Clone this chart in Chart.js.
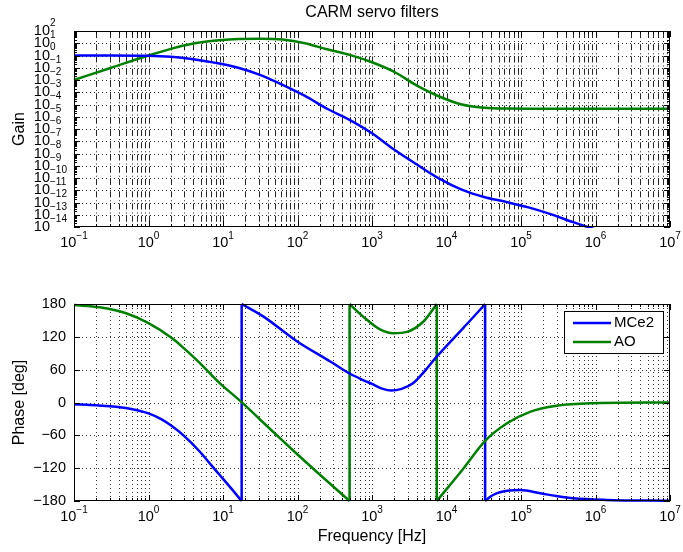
<!DOCTYPE html>
<html><head><meta charset="utf-8">
<script src="https://cdn.jsdelivr.net/npm/chart.js@4.4.1/dist/chart.umd.min.js"></script>
<style>
html,body{margin:0;padding:0;background:#fff;}
#wrap{position:relative;width:683px;height:552px;overflow:hidden;}
canvas{position:absolute;left:0;}
</style></head><body>
<div id="wrap">
<canvas id="gain" width="683" height="276" style="top:0"></canvas>
<canvas id="phase" width="683" height="276" style="top:276px"></canvas>
</div>
<script>
// ---- data ----
const seriesNames = ['MCe2', 'AO'];
const seriesColors = ['#0000ff', '#008000'];

const gainFreq = [0.1, 0.316, 1, 2, 4, 8, 16, 32, 63, 126, 250, 500, 1000, 2000, 4000, 8000, 16000, 32000, 63000, 126000, 250000, 500000, 1e6, 1e7];
const gainMCe2 = [1, 1, 0.955, 0.79, 0.5, 0.25, 0.1, 0.025, 4e-3, 5e-4, 4.5e-5, 5.6e-6, 4.5e-7, 2e-8, 1.26e-9, 8.9e-11, 1.12e-11, 2.8e-12, 1.12e-12, 4e-13, 1.12e-13, 2.5e-14, 6.3e-15, 1e-16];
const gainAO = [0.01, 0.1, 1, 3.5, 9.5, 16.6, 22.4, 22.9, 20, 10, 3.2, 1.12, 0.28, 0.045, 3.5e-3, 4.5e-4, 1e-4, 5.5e-5, 4.7e-5, 4.6e-5, 4.6e-5, 4.6e-5, 4.6e-5, 4.6e-5];

// null = phase wrap (jump between +180 and -180)
const phaseFreqMCe2 = [0.1, 0.2, 0.5, 1, 1.5, 2.1, 3, 4.9, 7, 9.1, 12, 17.8, 17.8, 17.8, 35, 98, 275, 500, 760, 1000, 1400, 1800, 2500, 3550, 5000, 7400, 12000, 17000, 28000, 33000, 33000, 33000, 40000, 47000, 70000, 98000, 182000, 300000, 500000, 1.4e6, 1e7];
const phaseMCe2 = [-3, -5, -10, -20, -31, -44, -61, -90, -115, -133, -152, -180, null, 180, 157, 112, 75, 53, 41, 34, 25, 22, 25, 35, 56, 84, 115, 137, 169, 180, null, -180, -171, -166, -161, -160, -166, -171, -175, -178, -179.5];
const phaseFreqAO = [0.1, 0.22, 0.5, 1, 2.1, 3, 4.9, 9.1, 17, 50, 100, 200, 500, 500, 500, 760, 1300, 1950, 2950, 4900, 7400, 7400, 7400, 17000, 33000, 65000, 132000, 300000, 850000, 1e7];
const phaseAO = [178, 174, 163, 145, 117, 99, 72, 35, 3, -57, -95, -132, -180, null, 180, 157, 133, 126.5, 129, 148, 180, null, -180, -120, -70, -38, -17, -6, -1.5, 0];

const freqTickExponents = [-1, 0, 1, 2, 3, 4, 5, 6, 7];
const gainTickExponents = [2, 1, 0, -1, -2, -3, -4, -5, -6, -7, -8, -9, -10, -11, -12, -13, -14];
const phaseTicks = [-180, -120, -60, 0, 60, 120, 180];

// ---- helpers ----
const FONT = '"Liberation Sans", Arial, Helvetica, sans-serif';
const toXY = (xs, ys) => xs.map((x, i) => ({ x: x, y: ys[i] }));
function jumps(xs, ys) {
  const out = [];
  ys.forEach((v, i) => {
    if (v === null) {
      out.push({ x: xs[i - 1], y: ys[i - 1] }, { x: xs[i + 1], y: ys[i + 1] }, { x: xs[i], y: null });
    }
  });
  return out;
}
function minorValues(e0, e1) {
  const v = [];
  for (let e = e0; e < e1; e++) for (let m = 1; m <= 9; m++) v.push({ v: m * Math.pow(10, e), major: m === 1 });
  v.push({ v: Math.pow(10, e1), major: true });
  return v;
}
function supLabel(ctx, exp, x, y, mode, supDy) {
  const ex = exp < 0 ? '\u2212' + Math.abs(exp) : String(exp);
  ctx.font = '14.5px ' + FONT; const bw = ctx.measureText('10').width;
  ctx.font = '10px ' + FONT; const ew = ctx.measureText(ex).width;
  const left = mode === 'center' ? x - (bw + ew) / 2 : x - bw;
  ctx.textAlign = 'left'; ctx.textBaseline = 'middle'; ctx.fillStyle = '#000';
  ctx.font = '14.5px ' + FONT; ctx.fillText('10', left, y);
  ctx.font = '10px ' + FONT; ctx.fillText(ex, left + bw, y - supDy);
}

const xGrid = minorValues(-1, 7);

function decor(cfg) {
  return {
    id: 'decor_' + cfg.name,
    beforeDatasetsDraw(chart) {
      const { ctx, chartArea: a, scales: { x, y } } = chart;
      ctx.save();
      ctx.beginPath(); ctx.rect(a.left, a.top, a.right - a.left, a.bottom - a.top); ctx.clip();
      ctx.lineWidth = 1;
      ctx.strokeStyle = cfg.gridColor;
      ctx.setLineDash(cfg.vDash); ctx.lineDashOffset = cfg.vDashOffset || 0;
      xGrid.forEach(t => {
        const px = Math.round(x.getPixelForValue(t.v)) + 0.5;
        ctx.beginPath(); ctx.moveTo(px, a.top); ctx.lineTo(px, a.bottom); ctx.stroke();
      });
      ctx.setLineDash([1, 3]); ctx.lineDashOffset = 0;
      cfg.hGrid.forEach(v => {
        const py = Math.round(y.getPixelForValue(v)) + 0.5;
        ctx.beginPath(); ctx.moveTo(a.left, py); ctx.lineTo(a.right, py); ctx.stroke();
      });
      ctx.restore();
    },
    afterDatasetsDraw(chart) {
      const { ctx, chartArea: a, scales: { x, y } } = chart;
      ctx.save();
      ctx.setLineDash([]);
      ctx.strokeStyle = '#000'; ctx.lineWidth = 1;
      // tick marks (inward)
      ctx.beginPath();
      xGrid.forEach(t => {
        const px = Math.round(x.getPixelForValue(t.v)) + 0.5;
        const L = t.major ? 6 : 3;
        ctx.moveTo(px, a.bottom); ctx.lineTo(px, a.bottom - L);
        ctx.moveTo(px, a.top); ctx.lineTo(px, a.top + L);
      });
      cfg.yTicks.forEach(t => {
        const py = Math.round(y.getPixelForValue(t.v)) + 0.5;
        const L = t.major ? 6 : 3;
        ctx.moveTo(a.left, py); ctx.lineTo(a.left + L, py);
        ctx.moveTo(a.right, py); ctx.lineTo(a.right - L, py);
      });
      ctx.stroke();
      // box
      ctx.strokeRect(a.left + 0.5, a.top + 0.5, a.right - a.left - 1, a.bottom - a.top - 1);
      // x tick labels
      freqTickExponents.forEach(e => {
        supLabel(ctx, e, x.getPixelForValue(Math.pow(10, e)), a.bottom + 16, 'center', 7);
      });
      // y tick labels
      ctx.fillStyle = '#000';
      if (cfg.logY) {
        gainTickExponents.forEach(e => {
          supLabel(ctx, e, a.left - 24, y.getPixelForValue(Math.pow(10, e)), 'baseRight', 8);
        });
      } else {
        ctx.font = '14.5px ' + FONT; ctx.textAlign = 'right'; ctx.textBaseline = 'middle';
        phaseTicks.forEach(v => {
          const s = v < 0 ? '\u2212' + Math.abs(v) : String(v);
          ctx.fillText(s, a.left - 8, y.getPixelForValue(v));
        });
      }
      // y axis title
      ctx.save();
      ctx.translate(20, (a.top + a.bottom) / 2);
      ctx.rotate(-Math.PI / 2);
      ctx.font = '16px ' + FONT; ctx.textAlign = 'center'; ctx.textBaseline = 'middle';
      ctx.fillText(cfg.yLabel, 0, 0);
      ctx.restore();
      ctx.font = '16px ' + FONT; ctx.textAlign = 'center'; ctx.textBaseline = 'middle'; ctx.fillStyle = '#000';
      if (cfg.title) ctx.fillText(cfg.title, (a.left + a.right) / 2, 13);
      if (cfg.xLabel) ctx.fillText(cfg.xLabel, (a.left + a.right) / 2, a.bottom + 36);
      // legend
      if (cfg.legend) {
        const w = 99, h = 42;
        const lx = a.right - 7 - w, ly = a.top + 7;
        ctx.fillStyle = '#fff'; ctx.fillRect(lx, ly, w, h);
        ctx.strokeStyle = '#000'; ctx.lineWidth = 1;
        ctx.strokeRect(lx + 0.5, ly + 0.5, w, h);
        seriesNames.forEach((n, i) => {
          const yy = ly + 12 + i * 19;
          ctx.strokeStyle = seriesColors[i]; ctx.lineWidth = 2.5;
          ctx.beginPath(); ctx.moveTo(lx + 9, yy); ctx.lineTo(lx + 47, yy); ctx.stroke();
          ctx.fillStyle = '#000'; ctx.font = '15px ' + FONT; ctx.textAlign = 'left'; ctx.textBaseline = 'middle';
          ctx.fillText(n, lx + 50, yy);
        });
      }
      ctx.restore();
    }
  };
}

const hiddenAxis = { ticks: { display: false }, grid: { display: false, drawTicks: false }, border: { display: false } };
function baseOptions(padding, yAxis) {
  return {
    responsive: false, animation: false, devicePixelRatio: 1,
    layout: { padding: padding },
    plugins: { legend: { display: false }, title: { display: false }, tooltip: { enabled: false } },
    elements: { point: { radius: 0, hoverRadius: 0 } },
    scales: {
      x: Object.assign({ type: 'logarithmic', min: 0.1, max: 1e7 }, hiddenAxis),
      y: Object.assign(yAxis, hiddenAxis)
    }
  };
}
function lineDs(label, data, color, extra) {
  return Object.assign({
    label: label, data: data, borderColor: color, backgroundColor: color,
    borderWidth: 2.5, fill: false, cubicInterpolationMode: 'monotone', spanGaps: false, clip: 1, pointRadius: 0
  }, extra || {});
}

// ---- gain chart ----
const gainYTicks = [];
for (let e = -14; e <= 2; e++) {
  gainYTicks.push({ v: Math.pow(10, e), major: true });
  if (e < 2) for (let m = 2; m <= 9; m++) gainYTicks.push({ v: m * Math.pow(10, e), major: false });
}
new Chart(document.getElementById('gain'), {
  type: 'line',
  data: {
    datasets: [
      lineDs(seriesNames[0], toXY(gainFreq, gainMCe2), seriesColors[0]),
      lineDs(seriesNames[1], toXY(gainFreq, gainAO), seriesColors[1])
    ]
  },
  options: baseOptions({ left: 74, right: 13, top: 31, bottom: 49 }, { type: 'logarithmic', min: 1e-14, max: 100 }),
  plugins: [decor({
    name: 'gain', logY: true, title: 'CARM servo filters', yLabel: 'Gain',
    gridColor: 'rgba(0,0,0,0.85)', vDash: [6, 3, 1, 2.25], vDashOffset: -1,
    hGrid: gainTickExponents.map(e => Math.pow(10, e)), yTicks: gainYTicks
  })]
});

// ---- phase chart ----
new Chart(document.getElementById('phase'), {
  type: 'line',
  data: {
    datasets: [
      lineDs(seriesNames[0], toXY(phaseFreqMCe2, phaseMCe2), seriesColors[0]),
      lineDs(seriesNames[1], toXY(phaseFreqAO, phaseAO), seriesColors[1]),
      lineDs('_wrap_' + seriesNames[0], jumps(phaseFreqMCe2, phaseMCe2), seriesColors[0], { cubicInterpolationMode: 'default', tension: 0 }),
      lineDs('_wrap_' + seriesNames[1], jumps(phaseFreqAO, phaseAO), seriesColors[1], { cubicInterpolationMode: 'default', tension: 0 })
    ]
  },
  options: baseOptions({ left: 74, right: 13, top: 28, bottom: 51 }, { type: 'linear', min: -180, max: 180 }),
  plugins: [decor({
    name: 'phase', logY: false, yLabel: 'Phase [deg]', xLabel: 'Frequency [Hz]', legend: true,
    gridColor: 'rgba(0,0,0,0.8)', vDash: [1, 3], vDashOffset: 0,
    hGrid: [-120, -60, 0, 60, 120], yTicks: phaseTicks.map(v => ({ v: v, major: true }))
  })]
});
</script>
</body></html>
